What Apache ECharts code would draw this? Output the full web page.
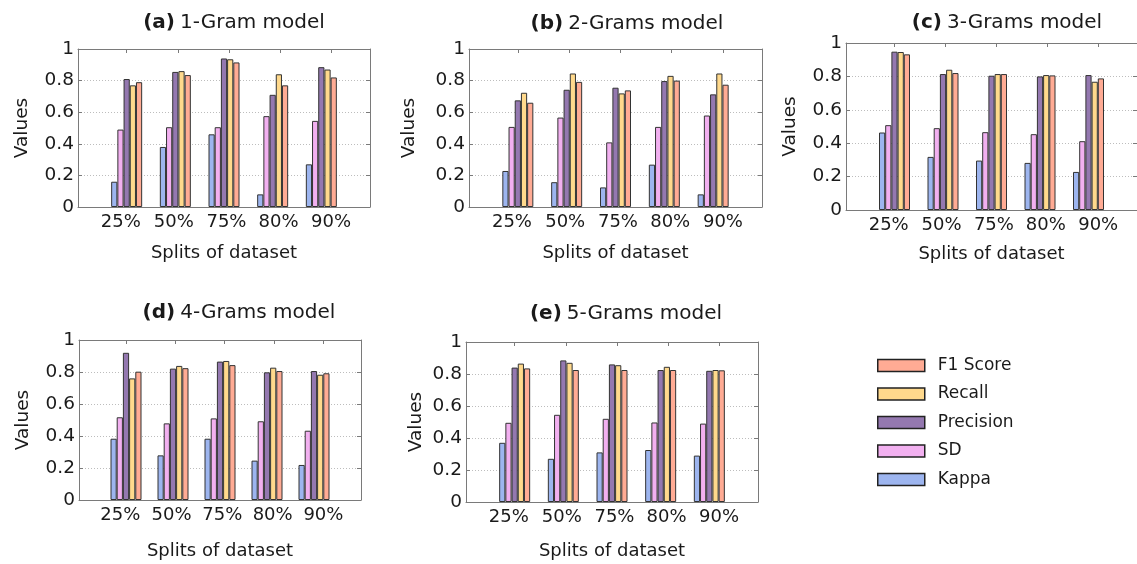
<!DOCTYPE html>
<html><head><meta charset="utf-8">
<script src="https://cdn.jsdelivr.net/npm/echarts@6/dist/echarts.min.js"></script>
<style>html,body{margin:0;padding:0;background:#fff}#c{width:1137px;height:564px}</style>
</head><body><div id="c"></div>
<script>
// ---- data ----
const splits = ['25%', '50%', '75%', '80%', '90%'];
const metrics = ['Kappa', 'SD', 'Precision', 'Recall', 'F1 Score'];
const legendOrder = ['F1 Score', 'Recall', 'Precision', 'SD', 'Kappa'];
const yTicks = [0, 0.2, 0.4, 0.6, 0.8, 1];
const panelLetters = ['(a)', '(b)', '(c)', '(d)', '(e)'];
const panelNames = ['1-Gram model', '2-Grams model', '3-Grams model', '4-Grams model', '5-Grams model'];

// 1-Gram
const g1Kappa = [0.16, 0.38, 0.46, 0.08, 0.27];
const g1SD = [0.49, 0.505, 0.505, 0.575, 0.545];
const g1Precision = [0.81, 0.855, 0.94, 0.71, 0.885];
const g1Recall = [0.77, 0.86, 0.935, 0.84, 0.87];
const g1F1 = [0.79, 0.835, 0.915, 0.77, 0.82];
// 2-Grams
const g2Kappa = [0.228, 0.157, 0.124, 0.268, 0.08];
const g2SD = [0.507, 0.566, 0.409, 0.507, 0.579];
const g2Precision = [0.675, 0.742, 0.755, 0.797, 0.713];
const g2Recall = [0.723, 0.845, 0.719, 0.83, 0.845];
const g2F1 = [0.66, 0.792, 0.738, 0.80, 0.774];
// 3-Grams
const g3Kappa = [0.464, 0.318, 0.296, 0.282, 0.228];
const g3SD = [0.508, 0.49, 0.466, 0.454, 0.412];
const g3Precision = [0.948, 0.814, 0.804, 0.80, 0.808];
const g3Recall = [0.946, 0.84, 0.814, 0.808, 0.768];
const g3F1 = [0.932, 0.82, 0.814, 0.806, 0.788];
// 4-Grams
const g4Kappa = [0.383, 0.279, 0.383, 0.246, 0.219];
const g4SD = [0.517, 0.479, 0.51, 0.492, 0.433];
const g4Precision = [0.92, 0.821, 0.865, 0.798, 0.806];
const g4Recall = [0.76, 0.838, 0.869, 0.827, 0.783];
const g4F1 = [0.802, 0.824, 0.843, 0.806, 0.792];
// 5-Grams
const g5Kappa = [0.37, 0.27, 0.31, 0.325, 0.29];
const g5SD = [0.495, 0.545, 0.52, 0.497, 0.49];
const g5Precision = [0.84, 0.885, 0.86, 0.825, 0.82];
const g5Recall = [0.865, 0.87, 0.855, 0.845, 0.825];
const g5F1 = [0.835, 0.825, 0.825, 0.825, 0.823];

const panelData = [
  [g1Kappa, g1SD, g1Precision, g1Recall, g1F1],
  [g2Kappa, g2SD, g2Precision, g2Recall, g2F1],
  [g3Kappa, g3SD, g3Precision, g3Recall, g3F1],
  [g4Kappa, g4SD, g4Precision, g4Recall, g4F1],
  [g5Kappa, g5SD, g5Precision, g5Recall, g5F1]
];

// ---- layout / style ----
const colors = ['#9db5ef', '#f2b0f0', '#9478b0', '#ffd98c', '#ffab94'];
const FONT = 'DejaVu Sans';
const TXT = '#1a1a1a';
const FRAME = '#7a7a7a';
const grids = [
  {left: 78, top: 49, width: 292, height: 158},
  {left: 469, top: 49, width: 293, height: 158},
  {left: 846, top: 43, width: 294, height: 167},
  {left: 79, top: 340, width: 282, height: 160},
  {left: 466, top: 342, width: 292, height: 160}
];
const titlePos = [[234, 12], [627, 13], [1007, 12], [239, 302], [626, 303]];
const xNameGap = [37, 37, 35, 42, 40];
const yNameGap = [46, 50, 46, 46, 40];
const labelPos = [-0.12, 0.97, 2.05, 3.12, 4.2];
const topTickPos = [0, 1.05, 2.1, 3.15, 4.2];

const xAxis = [], yAxis = [], series = [], title = [];
grids.forEach((g, p) => {
  xAxis.push({
    type: 'value', gridIndex: p, min: -1, max: 5, position: 'bottom',
    name: 'Splits of dataset', nameLocation: 'middle', nameGap: xNameGap[p],
    nameTextStyle: {fontFamily: FONT, fontSize: 18, color: TXT},
    axisLine: {show: true, onZero: false, lineStyle: {color: FRAME, width: 1}},
    axisTick: {show: false},
    axisLabel: {show: true, customValues: labelPos, margin: 6,
      fontFamily: FONT, fontSize: 18, color: TXT,
      formatter: v => splits[Math.round(v)] || ''},
    splitLine: {show: false}
  });
  xAxis.push({
    type: 'value', gridIndex: p, min: -1, max: 5, position: 'top',
    axisLine: {show: true, onZero: false, lineStyle: {color: FRAME, width: 1}},
    axisTick: {show: true, inside: true, length: 4, customValues: topTickPos,
      lineStyle: {color: FRAME, width: 1}},
    axisLabel: {show: false},
    splitLine: {show: false}
  });
  yAxis.push({
    type: 'value', gridIndex: p, min: 0, max: 1, interval: 0.2, position: 'left',
    name: 'Values', nameLocation: 'middle', nameGap: yNameGap[p], nameRotate: 90,
    nameTextStyle: {fontFamily: FONT, fontSize: 18.5, color: TXT},
    axisLine: {show: true, onZero: false, lineStyle: {color: FRAME, width: 1}},
    axisTick: {show: true, inside: true, length: 4, lineStyle: {color: FRAME}},
    axisLabel: {margin: 4, fontFamily: FONT, fontSize: 18.5, color: TXT,
      formatter: v => String(yTicks.find(t => Math.abs(t - v) < 1e-6) ?? v)},
    splitLine: {show: true, lineStyle: {color: '#bdbdbd', width: 1, type: [1, 2]}}
  });
  yAxis.push({
    type: 'value', gridIndex: p, min: 0, max: 1, interval: 0.2, position: 'right',
    axisLine: {show: true, onZero: false, lineStyle: {color: FRAME, width: 1}},
    axisTick: {show: true, inside: true, length: 4, lineStyle: {color: FRAME}},
    axisLabel: {show: false},
    splitLine: {show: false}
  });
  title.push({
    text: '{b|' + panelLetters[p] + '} {n|' + panelNames[p] + '}',
    left: titlePos[p][0], top: titlePos[p][1], textAlign: 'center', padding: 0,
    textStyle: {fontWeight: 'normal', rich: {
      b: {fontFamily: FONT, fontSize: 20, fontWeight: 'bold', color: TXT, lineHeight: 22},
      n: {fontFamily: FONT, fontSize: 20, fontWeight: 'normal', color: TXT, lineHeight: 22}
    }}
  });
  metrics.forEach((m, k) => {
    series.push({
      type: 'bar', name: m, xAxisIndex: 2 * p, yAxisIndex: 2 * p,
      data: panelData[p][k].map((v, i) => [i, v]),
      barWidth: 6.2, barGap: '0%',
      itemStyle: {color: colors[k], borderColor: '#333333', borderWidth: 1},
      emphasis: {disabled: true}
    });
  });
});

const chart = echarts.init(document.getElementById('c'), null, {renderer: 'canvas'});
chart.setOption({
  animation: false,
  backgroundColor: '#ffffff',
  title: title,
  grid: grids,
  xAxis: xAxis,
  yAxis: yAxis,
  legend: {
    data: legendOrder, orient: 'vertical', left: 877, top: 357, padding: 0,
    itemWidth: 47, itemHeight: 12, itemGap: 11.5, icon: 'rect',
    itemStyle: {borderColor: '#222', borderWidth: 1.5},
    textStyle: {fontFamily: FONT, fontSize: 17, color: TXT, padding: [0, 0, 0, 8]}
  },
  series: series
});
</script>
</body></html>
